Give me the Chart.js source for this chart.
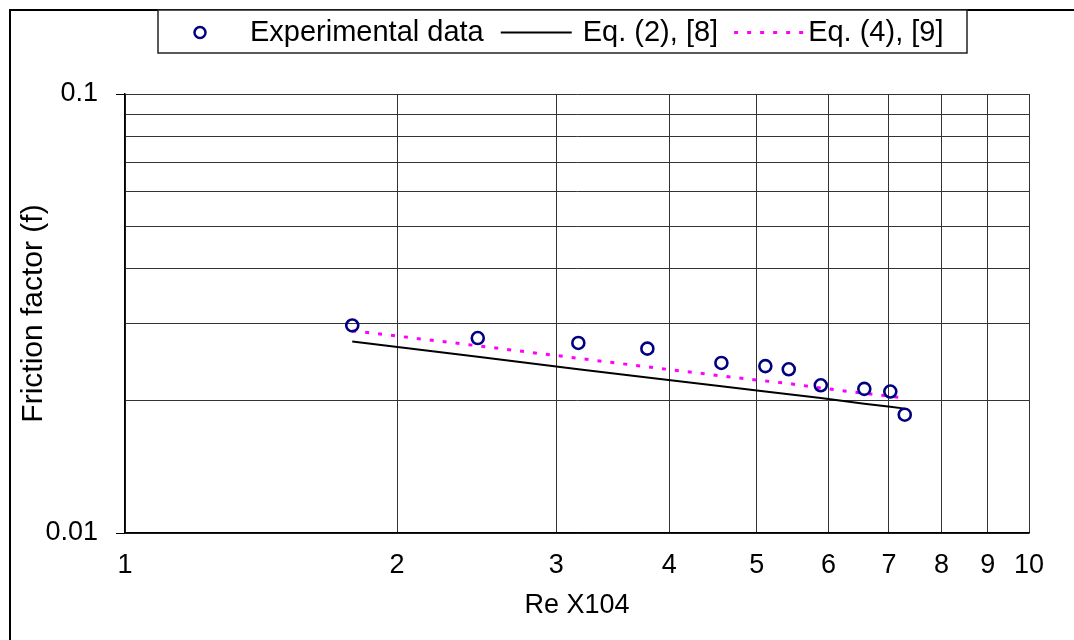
<!DOCTYPE html>
<html>
<head>
<meta charset="utf-8">
<script src="https://cdn.jsdelivr.net/npm/chart.js@4"></script>
<style>
  html, body { margin: 0; padding: 0; background: #ffffff; }
  #wrap { width: 1074px; height: 640px; position: relative; }
</style>
</head>
<body>
<div id="wrap"><canvas id="c" width="1074" height="640"></canvas></div>
<script>
// ---- data ----
const reX   = [1.784, 2.456, 3.173, 3.783, 4.568, 5.109, 5.423, 5.884, 6.574, 7.024, 7.287];
const fExp  = [0.0297, 0.0278, 0.0271, 0.0263, 0.0244, 0.0240, 0.0236, 0.0217, 0.0213, 0.0210, 0.0186];
const fEq2  = [0.0273, 0.0252, 0.0236, 0.0226, 0.0216, 0.0210, 0.0207, 0.0203, 0.0197, 0.0194, 0.0192];
const fEq4  = [0.0289, 0.0267, 0.0250, 0.0239, 0.0228, 0.0222, 0.0219, 0.0214, 0.0208, 0.0205, 0.0203];
const xTicks = [1, 2, 3, 4, 5, 6, 7, 8, 9, 10];
const yTicks = [0.01, 0.02, 0.03, 0.04, 0.05, 0.06, 0.07, 0.08, 0.09, 0.1];
const yLabeled = [0.01, 0.1];
const seriesNames = ['Experimental data', 'Eq. (2), [8]', 'Eq. (4), [9]'];
const xTitle = 'Re X104';
const yTitle = 'Friction factor (f)';

const FONT = "'Liberation Sans', Arial, sans-serif";
const FS_TICK = 27;
const FS_LEG = 29;
const FS_XT = 27;
const FS_YT = 30;

const pts = (xs, ys) => xs.map((x, i) => ({ x: x, y: ys[i] }));
const isLabeled = v => yLabeled.some(l => Math.abs(l - v) < 1e-9);

const framePlugin = {
  id: 'frameLegend',
  afterDraw(chart) {
    const ctx = chart.ctx;
    ctx.save();
    // outer frame (top + left)
    ctx.strokeStyle = '#000';
    ctx.lineWidth = 2;
    ctx.beginPath();
    ctx.moveTo(10, 640);
    ctx.lineTo(10, 10);
    ctx.lineTo(1074, 10);
    ctx.stroke();

    // legend box
    const bx = 158, by = 10, bw = 809, bh = 43;
    ctx.fillStyle = '#fff';
    ctx.fillRect(bx, by, bw, bh);
    ctx.strokeStyle = '#222';
    ctx.lineWidth = 1.5;
    ctx.strokeRect(bx, by, bw, bh);

    const ds = chart.data.datasets;
    const cy = by + bh / 2 + 1;
    ctx.font = FS_LEG + 'px ' + FONT;
    ctx.textBaseline = 'middle';
    ctx.fillStyle = '#000';
    let x = bx + 42;
    // item 1 : circle marker
    ctx.beginPath();
    ctx.arc(x, cy, 5.5, 0, Math.PI * 2);
    ctx.strokeStyle = ds[0].borderColor;
    ctx.lineWidth = 2.5;
    ctx.stroke();
    x += 50;
    ctx.fillText(ds[0].label, x, cy);
    x += ctx.measureText(ds[0].label).width + 17;
    // item 2 : solid line
    ctx.beginPath();
    ctx.strokeStyle = ds[1].borderColor;
    ctx.lineWidth = ds[1].borderWidth;
    ctx.moveTo(x, cy); ctx.lineTo(x + 71, cy);
    ctx.stroke();
    x += 82;
    ctx.fillText(ds[1].label, x, cy);
    x += ctx.measureText(ds[1].label).width + 16;
    // item 3 : dotted line
    ctx.beginPath();
    ctx.strokeStyle = ds[2].borderColor;
    ctx.lineWidth = ds[2].borderWidth;
    ctx.setLineDash(ds[2].borderDash);
    ctx.moveTo(x, cy); ctx.lineTo(x + 74, cy);
    ctx.stroke();
    ctx.setLineDash([]);
    x += 74;
    ctx.fillText(ds[2].label, x, cy);
    ctx.restore();
  }
};

new Chart(document.getElementById('c'), {
  type: 'scatter',
  data: {
    datasets: [
      {
        label: seriesNames[0],
        data: pts(reX, fExp),
        showLine: false,
        pointStyle: 'circle',
        pointRadius: 6,
        pointBorderWidth: 2.6,
        borderColor: '#000080',
        pointBorderColor: '#000080',
        pointBackgroundColor: 'rgba(255,255,255,0)',
        backgroundColor: 'rgba(255,255,255,0)'
      },
      {
        label: seriesNames[1],
        data: pts(reX, fEq2),
        showLine: true,
        borderColor: '#000000',
        borderWidth: 2,
        pointRadius: 0,
        tension: 0
      },
      {
        label: seriesNames[2],
        data: pts(reX, fEq4),
        showLine: true,
        borderColor: '#FF00FF',
        borderWidth: 3,
        borderDash: [4, 9],
        pointRadius: 0,
        tension: 0
      }
    ]
  },
  options: {
    responsive: false,
    animation: false,
    events: [],
    layout: { padding: { top: 94, right: 45, bottom: 0, left: 0 } },
    plugins: {
      legend: { display: false },
      tooltip: { enabled: false },
      title: { display: false }
    },
    scales: {
      x: {
        type: 'logarithmic',
        position: 'bottom',
        min: 1, max: 10,
        afterBuildTicks: s => { s.ticks = xTicks.map(v => ({ value: v })); },
        afterFit: s => { s.height = 107; },
        ticks: {
          autoSkip: false, maxRotation: 0, padding: 16,
          color: '#000',
          font: { family: FONT, size: FS_TICK },
          callback: v => String(v)
        },
        grid: { color: '#333', lineWidth: 1, drawTicks: false },
        border: { display: true, color: '#000', width: 1.5 },
        title: {
          display: true, text: xTitle, color: '#000',
          font: { family: FONT, size: FS_XT },
          padding: { top: 0, bottom: 18 }
        }
      },
      y: {
        type: 'logarithmic',
        position: 'left',
        min: 0.01, max: 0.1,
        afterBuildTicks: s => { s.ticks = yTicks.map(v => ({ value: v })); },
        afterFit: s => { s.width = 125; },
        ticks: {
          autoSkip: false, padding: 18,
          color: '#000',
          font: { family: FONT, size: FS_TICK },
          callback: v => (isLabeled(v) ? String(v) : '')
        },
        grid: {
          color: '#333', lineWidth: 1, tickLength: 9,
          tickColor: c => (c.tick && isLabeled(c.tick.value) ? '#000' : 'rgba(0,0,0,0)')
        },
        border: { display: true, color: '#000', width: 1.5 },
        title: {
          display: true, text: yTitle, color: '#000',
          font: { family: FONT, size: FS_YT },
          padding: { top: 16, bottom: 0 }
        }
      }
    }
  },
  plugins: [framePlugin]
});
</script>
</body>
</html>
